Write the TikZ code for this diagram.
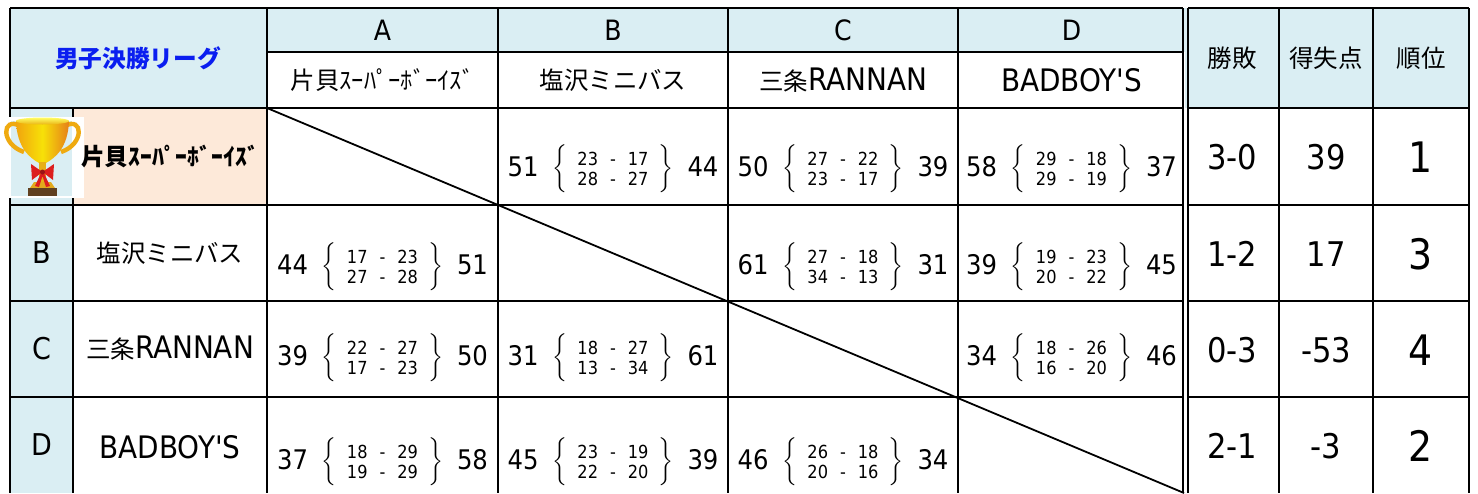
\documentclass[tikz,border=0pt]{standalone}
\usepackage{fontspec}
\setmainfont{DejaVu Sans Condensed}
\newfontfamily\jp{Noto Sans CJK JP}[Scale=0.79]
\usepackage{tikz}

\definecolor{hdblue}{RGB}{218,238,243}
\definecolor{peach}{RGB}{253,233,217}
\definecolor{ttlblue}{RGB}{10,30,240}
\definecolor{gold}{RGB}{235,180,20}
\definecolor{ribbon}{RGB}{220,30,30}

\newcommand{\game}[6]{#1\hspace{7pt}$\left\{\mbox{\hspace{5pt}\fontsize{9}{10}\selectfont\begin{tabular}{@{}c@{\hspace{6pt}}c@{\hspace{6pt}}c@{}}#2&-&#3\\#4&-&#5\end{tabular}\hspace{5pt}}\right\}$\hspace{7pt}#6}

\begin{document}
\begin{tikzpicture}[x = 0.5pt, y = -0.5pt,
	grid/.style = {line width = 1.3pt},
	thin/.style = {line width = 0.9pt},
	hd/.style = {font = \fontsize{14}{17}\selectfont},
	nm/.style = {font = \fontsize{15.5}{18}\selectfont},
	gm/.style = {font = \fontsize{13.5}{15}\selectfont, inner sep = 0pt},
	val/.style = {font = \fontsize{17}{20}\selectfont},
	rank/.style = {font = \fontsize{21}{25}\selectfont}]

\useasboundingbox (0,0) rectangle (1478,493);

\fill[hdblue] (10,8) rectangle (267,108);
\fill[hdblue] (267,8) rectangle (1185,52);
\fill[hdblue] (1185,8) rectangle (1469,108);
\fill[hdblue] (10,108) rectangle (73,493);
\fill[peach] (73,108) rectangle (267,205);

\foreach \y in {8,108,205,301,397} {
	\draw[grid] (10,\y) -- (1183,\y);
	\draw[grid] (1188,\y) -- (1469,\y);
}
\draw[thin] (267,52) -- (1183,52);
\foreach \x in {10,267,498,728,958,1279,1373,1469}
	\draw[grid] (\x,8) -- (\x,493);
\draw[grid] (73,108) -- (73,493);
\foreach \x in {1183,1188}
	\draw[thin] (\x,8) -- (\x,493);
\draw[thin] (267,108) -- (1184,493);

% trophy
\fill[white] (2,117) rectangle (84,198);
\fill[hdblue] (11,121) rectangle (72,196);
\draw[gold!80!orange, line width = 2.2pt] (20,126) .. controls (2,116) and (0,144) .. (24,152);
\draw[gold!80!orange, line width = 2.2pt] (65,126) .. controls (83,116) and (85,144) .. (61,152);
\shade[left color = gold!70!orange, right color = orange!60!brown, middle color = yellow!60!gold] (16,121) .. controls (17,148) and (30,158) .. (39,163) -- (46,163) .. controls (55,158) and (68,148) .. (69,121) -- cycle;
\shade[top color = yellow!60!white, bottom color = gold] (42.5,121) ellipse [x radius = 26.5, y radius = 3.5];
\fill[gold!90!brown] (39,162) rectangle (46,183);
\fill[gold!80!brown] (34,182) -- (51,182) -- (55,188) -- (30,188) -- cycle;
\fill[brown!50!black] (28,188) rectangle (57,196);
\fill[ribbon] (42.5,172) -- (31,164) -- (32,180) -- cycle;
\fill[ribbon] (42.5,172) -- (54,164) -- (53,180) -- cycle;
\fill[ribbon] (41,173) -- (35,186) -- (39,187) -- (42.5,176) -- (46,187) -- (50,186) -- (44,173) -- cycle;
\fill[ribbon!70!black] (42.5,172) circle [radius = 2.5];

\node[font = \fontsize{15}{18}\selectfont\jp\bfseries, text = ttlblue] (title) at (138,58) {男子決勝リーグ};

\node[hd] (headA) at (382.5,30) {A};
\node[hd] (headB) at (613,30) {B};
\node[hd] (headC) at (843,30) {C};
\node[hd] (headD) at (1071.5,30) {D};

\node[nm] (colA) at (382.5,80) {\jp 片貝ｽｰﾊﾟｰﾎﾞｰｲｽﾞ};
\node[nm] (colB) at (613,80) {\jp 塩沢ミニバス};
\node[nm] (colC) at (843,80) {{\jp 三条}RANNAN};
\node[nm] (colD) at (1071.5,80) {BADBOY\textquotesingle S};

\node[nm] (wl) at (1232,58) {\jp 勝敗};
\node[nm] (pts) at (1326,58) {\jp 得失点};
\node[nm] (pos) at (1421,58) {\jp 順位};

\node[hd, font = \fontsize{15}{18}\selectfont] (rowB) at (41.5,253) {B};
\node[hd, font = \fontsize{15}{18}\selectfont] (rowC) at (41.5,349) {C};
\node[hd, font = \fontsize{15}{18}\selectfont] (rowD) at (41.5,445) {D};

\node[font = \fontsize{15}{18}\selectfont\jp\bfseries] (nameA) at (170,157) {片貝ｽｰﾊﾟｰﾎﾞｰｲｽﾞ};
\node[nm] (nameB) at (170,253) {\jp 塩沢ミニバス};
\node[nm] (nameC) at (170,348) {{\jp 三条}RANNAN};
\node[nm] (nameD) at (170,447) {BADBOY\textquotesingle S};

\node[gm] (sAB) at (613,169) {\game{51}{23}{17}{28}{27}{44}};
\node[gm] (sAC) at (843,169) {\game{50}{27}{22}{23}{17}{39}};
\node[gm] (sAD) at (1071.5,169) {\game{58}{29}{18}{29}{19}{37}};
\node[gm] (sBA) at (382.5,267) {\game{44}{17}{23}{27}{28}{51}};
\node[gm] (sBC) at (843,267) {\game{61}{27}{18}{34}{13}{31}};
\node[gm] (sBD) at (1071.5,267) {\game{39}{19}{23}{20}{22}{45}};
\node[gm] (sCA) at (382.5,358) {\game{39}{22}{27}{17}{23}{50}};
\node[gm] (sCB) at (613,358) {\game{31}{18}{27}{13}{34}{61}};
\node[gm] (sCD) at (1071.5,358) {\game{34}{18}{26}{16}{20}{46}};
\node[gm] (sDA) at (382.5,462) {\game{37}{18}{29}{19}{29}{58}};
\node[gm] (sDB) at (613,462) {\game{45}{23}{19}{22}{20}{39}};
\node[gm] (sDC) at (843,462) {\game{46}{26}{18}{20}{16}{34}};

\node[val] (wlA) at (1232,157) {3-0};
\node[val] (wlB) at (1232,254) {1-2};
\node[val] (wlC) at (1232,350) {0-3};
\node[val] (wlD) at (1232,446) {2-1};
\node[val] (ptsA) at (1326,157) {39};
\node[val] (ptsB) at (1326,254) {17};
\node[val] (ptsC) at (1326,350) {-53};
\node[val] (ptsD) at (1326,446) {-3};
\node[rank] (posA) at (1421,157) {1};
\node[rank] (posB) at (1421,254) {3};
\node[rank] (posC) at (1421,350) {4};
\node[rank] (posD) at (1421,446) {2};
\end{tikzpicture}
\end{document}
